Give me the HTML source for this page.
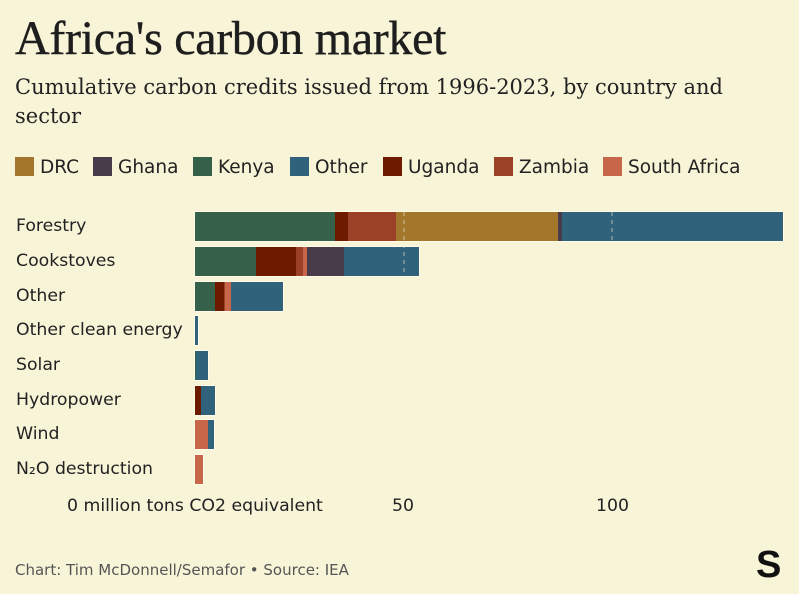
<!DOCTYPE html>
<html><head><meta charset="utf-8"><style>
body{margin:0;background:#f8f4d7;width:799px;height:594px;overflow:hidden;position:relative;font-family:"DejaVu Sans","Liberation Sans",sans-serif;color:#222}
.t{position:absolute;left:15px;top:11px;font-family:"Liberation Serif",serif;font-size:48px;color:#1e1e1e;letter-spacing:-0.3px;-webkit-text-stroke:0.4px #1e1e1e}
.s{position:absolute;left:15px;top:73px;font-family:"DejaVu Serif","Liberation Serif",serif;font-size:21px;line-height:29px;color:#222;width:740px}
.lg{position:absolute;top:157px;font-size:18.5px;color:#222}
.lg i{display:inline-block;width:19px;height:19px;vertical-align:-3px;margin-right:6px}
.lab{position:absolute;left:16px;font-size:17.3px;color:#222}
.b{position:absolute;height:29px;box-shadow:0 0 0 1px #fffbe8}
.b div{position:absolute;top:0;height:29px}
.ax{position:absolute;top:496px;font-size:17.3px;color:#222}
.ft{position:absolute;left:15px;top:561px;font-size:15px;color:#555}
</style></head><body>
<div class="t">Africa's carbon market</div>
<div class="s">Cumulative carbon credits issued from 1996-2023, by country and sector</div>
<div class="lg" style="left:15px"><i style="background:#a3772b"></i>DRC</div>
<div class="lg" style="left:93px"><i style="background:#483c4a"></i>Ghana</div>
<div class="lg" style="left:193px"><i style="background:#35604a"></i>Kenya</div>
<div class="lg" style="left:290px"><i style="background:#30637b"></i>Other</div>
<div class="lg" style="left:383px"><i style="background:#6e1a00"></i>Uganda</div>
<div class="lg" style="left:494px"><i style="background:#9a4128"></i>Zambia</div>
<div class="lg" style="left:603px"><i style="background:#c8664a"></i>South Africa</div>

<div class="lab" style="top:216px">Forestry</div>
<div class="lab" style="top:251px">Cookstoves</div>
<div class="lab" style="top:286px">Other</div>
<div class="lab" style="top:320px">Other clean energy</div>
<div class="lab" style="top:355px">Solar</div>
<div class="lab" style="top:390px">Hydropower</div>
<div class="lab" style="top:424px">Wind</div>
<div class="lab" style="top:459px">N₂O destruction</div>

<div class="b" style="top:212px;left:195px;width:588px">
<div style="left:0;width:140px;background:#35604a"></div>
<div style="left:140px;width:13px;background:#6e1a00"></div>
<div style="left:153px;width:48px;background:#9a4128"></div>
<div style="left:201px;width:162px;background:#a3772b"></div>
<div style="left:363px;width:4px;background:#483c4a"></div>
<div style="left:367px;width:221px;background:#30637b"></div></div>
<div class="b" style="top:247px;left:195px;width:224px">
<div style="left:0;width:61px;background:#35604a"></div>
<div style="left:61px;width:40px;background:#6e1a00"></div>
<div style="left:101px;width:7px;background:#9a4128"></div>
<div style="left:108px;width:4px;background:#c8664a"></div>
<div style="left:112px;width:37px;background:#483c4a"></div>
<div style="left:149px;width:75px;background:#30637b"></div></div>
<div class="b" style="top:282px;left:195px;width:88px">
<div style="left:0;width:20px;background:#35604a"></div>
<div style="left:20px;width:9px;background:#6e1a00"></div>
<div style="left:29px;width:1px;background:#9a4128"></div>
<div style="left:30px;width:6px;background:#c8664a"></div>
<div style="left:36px;width:52px;background:#30637b"></div></div>
<div class="b" style="top:316px;left:195px;width:3px">
<div style="left:0;width:3px;background:#30637b"></div></div>
<div class="b" style="top:351px;left:195px;width:13px">
<div style="left:0;width:1px;background:#35604a"></div>
<div style="left:1px;width:12px;background:#30637b"></div></div>
<div class="b" style="top:386px;left:195px;width:20px">
<div style="left:0;width:6px;background:#6e1a00"></div>
<div style="left:6px;width:14px;background:#30637b"></div></div>
<div class="b" style="top:420px;left:195px;width:19px">
<div style="left:0;width:13px;background:#c8664a"></div>
<div style="left:13px;width:6px;background:#30637b"></div></div>
<div class="b" style="top:455px;left:195px;width:8px">
<div style="left:0;width:8px;background:#c8664a"></div></div>

<svg style="position:absolute;left:0;top:0" width="799" height="594">
<line x1="404" y1="212" x2="404" y2="276" stroke="#f8f4d7" stroke-opacity="0.6" stroke-dasharray="4,4"/>
<line x1="612" y1="212" x2="612" y2="241" stroke="#f8f4d7" stroke-opacity="0.6" stroke-dasharray="4,4"/>
</svg>

<div class="ax" style="left:67px">0 million tons CO2 equivalent</div>
<div class="ax" style="left:392px">50</div>
<div class="ax" style="left:596px">100</div>
<div class="ft">Chart: Tim McDonnell/Semafor • Source: IEA</div>
<div style="position:absolute;left:756px;top:544px;font-family:'Liberation Sans',sans-serif;font-weight:bold;font-size:38px;color:#111">S</div>
</body></html>
